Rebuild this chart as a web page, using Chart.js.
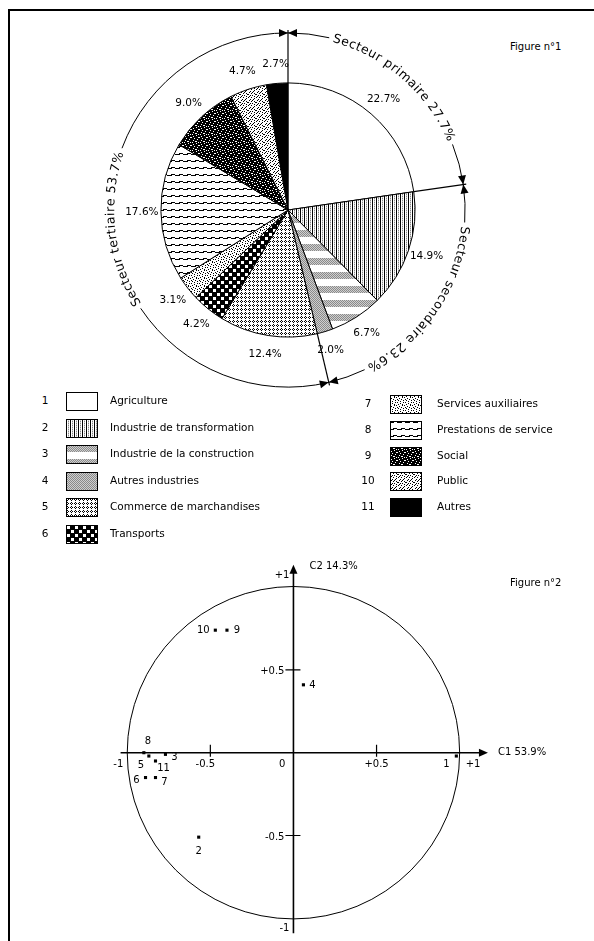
<!DOCTYPE html>
<html>
<head>
<meta charset="utf-8">
<script src="https://cdn.jsdelivr.net/npm/chart.js@4.4.0/dist/chart.umd.min.js"></script>
<style>
  body { margin: 0; background: #fff; width: 594px; height: 941px; overflow: hidden; position: relative; font-family: "DejaVu Sans", sans-serif; color: #000; }
  #frame { position: absolute; left: 8px; top: 9px; width: 620px; height: 960px; border-top: 2px solid #000; border-left: 2px solid #000; }
  canvas { position: absolute; }
  .fig { position: absolute; font-size: 10px; }
  .num { position: absolute; font-size: 10.5px; width: 20px; text-align: center; }
  .lab { position: absolute; font-size: 10.5px; white-space: nowrap; }
</style>
</head>
<body>
<div id="frame"></div>
<canvas id="pie" width="400" height="380" style="left:88px;top:20px"></canvas>
<div class="fig" style="left:510px;top:41px">Figure n°1</div>
<div id="legend"></div>
<canvas id="acp" width="490" height="391" style="left:90px;top:550px"></canvas>
<div class="fig" style="left:510px;top:577px">Figure n°2</div>
<script>
// branches d'activite (figure 1)
const branches = ['Agriculture', 'Industrie de transformation', 'Industrie de la construction',
  'Autres industries', 'Commerce de marchandises', 'Transports', 'Services auxiliaires',
  'Prestations de service', 'Social', 'Public', 'Autres'];
const shares = [22.7, 14.9, 6.7, 2.0, 12.4, 4.2, 3.1, 17.6, 9.0, 4.7, 2.7];
const sectors = ['Secteur primaire', 'Secteur secondaire', 'Secteur tertiaire'];
const sectorShares = ['27.7%', '23.6%', '53.7%'];
const sectorOf = [0, 1, 1, 1, 2, 2, 2, 2, 2, 2, 2];

// cercle des correlations (figure 2)
const pointIds = ['1', '2', '3', '4', '5', '6', '7', '8', '9', '10', '11'];
const c1 = [0.98, -0.57, -0.77, 0.06, -0.87, -0.89, -0.83, -0.90, -0.40, -0.47, -0.83];
const c2 = [-0.02, -0.51, -0.01, 0.41, -0.02, -0.15, -0.15, 0.0, 0.74, 0.74, -0.05];
const axisTitles = ['C1 53.9%', 'C2 14.3%'];
const xTicks = [-1, -0.5, 0, 0.5, 1];
const xTickLabels = ['-1', '-0.5', '0', '+0.5', '+1'];
const yTicks = [1, 0.5, -0.5, -1];
const yTickLabels = ['+1', '+0.5', '-0.5', '-1'];

// where each point label sits (dx, dy in px)
const labelOffsets = [[-10, 8], [0, 14], [9, 3], [9, 1], [-8, 9], [-9, 3], [9, 5], [4, -11], [10, 0], [-12, 0], [8, 7]];

// hatch tiles, one per branch
const ink = { '#': '#000', '.': '#fff', 'o': '#8a8a8a', ':': '#cfcfcf' };
const tiles = [
  ['.'],
  ['#.o.', '#.:.'],
  ['o:', ':o', 'o:', ':o', 'o:', ':o', 'o:', '..', '..', '..', '..', '..', '..', '..'],
  ['o:', ':o'],
  ['.#..', '#.#.', '.#..', '....'],
  ['########', '#...####', '#...####', '#...####', '########', '#####...', '#####...', '#####...'],
  ['..#.....', '#...#...', '....#.#.', '.#......', '...#...#', '#....#..', '..#.....', '.....#.#'],
  ['...####.', '####...#', '........', '........', '........', '........', '........'],
  ['#.######', '###..###', '.#####.#', '####.###', '#.######', '######..', '##.#####', '#####.##'],
  ['.#..#...', '...#..#.', '#......#', '..#.#...', '.#....#.', '#..#....', '......#.', '..#..#..'],
  ['#']
];

function tileCanvas(rows) {
  const c = document.createElement('canvas');
  c.width = rows[0].length;
  c.height = rows.length;
  const g = c.getContext('2d');
  rows.forEach((row, y) => {
    [...row].forEach((ch, x) => {
      g.fillStyle = ink[ch];
      g.fillRect(x, y, 1, 1);
    });
  });
  return c;
}
const tileCanvases = tiles.map(tileCanvas);

// legend (html)
const legend = document.getElementById('legend');
branches.forEach((name, i) => {
  const right = i >= 6;
  const row = right ? i - 6 : i;
  const top = right ? 395 + row * 25.8 : 392 + row * 26.6;
  const num = document.createElement('div');
  num.className = 'num';
  num.style.left = (right ? 358 : 35) + 'px';
  num.style.top = (top + 2) + 'px';
  num.textContent = pointIds[i];
  legend.appendChild(num);
  const sw = document.createElement('canvas');
  sw.width = 32;
  sw.height = 19;
  sw.style.left = (right ? 390 : 66) + 'px';
  sw.style.top = top + 'px';
  const g = sw.getContext('2d');
  g.fillStyle = g.createPattern(tileCanvases[i], 'repeat');
  g.fillRect(0, 0, 32, 19);
  g.strokeStyle = '#000';
  g.lineWidth = 1;
  g.strokeRect(0.5, 0.5, 31, 18);
  legend.appendChild(sw);
  const lab = document.createElement('div');
  lab.className = 'lab';
  lab.style.left = (right ? 437 : 110) + 'px';
  lab.style.top = (top + 2) + 'px';
  lab.textContent = name;
  legend.appendChild(lab);
});

function arrowHead(ctx, x, y, dx, dy, len, hw) {
  ctx.beginPath();
  ctx.moveTo(x, y);
  ctx.lineTo(x - dx * len - dy * hw, y - dy * len + dx * hw);
  ctx.lineTo(x - dx * len + dy * hw, y - dy * len - dx * hw);
  ctx.closePath();
  ctx.fill();
}

const pieDeco = {
  id: 'pieDeco',
  afterDatasetsDraw(chart) {
    const ctx = chart.ctx;
    const arcs = chart.getDatasetMeta(0).data;
    const cx = arcs[0].x;
    const cy = arcs[0].y;
    const r = arcs[0].outerRadius;
    const R = r * 177 / 127;
    ctx.save();
    ctx.fillStyle = '#000';
    ctx.strokeStyle = '#000';
    ctx.font = '10.5px "DejaVu Sans"';
    ctx.textAlign = 'center';
    ctx.textBaseline = 'middle';
    arcs.forEach((a, i) => {
      const m = (a.startAngle + a.endAngle) / 2;
      ctx.fillText(shares[i].toFixed(1) + '%', cx + Math.cos(m) * r * 1.15, cy + Math.sin(m) * r * 1.15);
    });

    ctx.font = '12.5px "DejaVu Sans"';
    ctx.letterSpacing = '0.6px';
    sectors.forEach((name, s) => {
      const idx = [];
      sectorOf.forEach((v, i) => { if (v === s) idx.push(i); });
      const a0 = arcs[idx[0]].startAngle;
      const a1 = arcs[idx[idx.length - 1]].endAngle;
      const text = name + ' ' + sectorShares[s];
      const w = ctx.measureText(text).width;
      const mid = (a0 + a1) / 2;
      const t0 = mid - w / 2 / R;
      const t1 = mid + w / 2 / R;
      const gap = 4 / R;
      ctx.lineWidth = 1;
      ctx.beginPath();
      ctx.arc(cx, cy, R, a0, t0 - gap);
      ctx.stroke();
      ctx.beginPath();
      ctx.arc(cx, cy, R, t1 + gap, a1);
      ctx.stroke();
      // text along the arc
      let off = 0;
      for (const ch of text) {
        const cw = ctx.measureText(ch).width;
        const th = t0 + (off + cw / 2) / R;
        ctx.save();
        ctx.translate(cx + Math.cos(th) * R, cy + Math.sin(th) * R);
        ctx.rotate(th + Math.PI / 2);
        ctx.fillText(ch, 0, 0);
        ctx.restore();
        off += cw;
      }
      // arrows at both ends
      const hs = [[a0, -1], [a1, 1]];
      hs.forEach(([th, dir]) => {
        const x = cx + Math.cos(th) * R;
        const y = cy + Math.sin(th) * R;
        arrowHead(ctx, x, y, -Math.sin(th) * dir, Math.cos(th) * dir, 9, 4);
      });
      // boundary line from pie edge to ring
      ctx.lineWidth = 1.2;
      ctx.beginPath();
      ctx.moveTo(cx + Math.cos(a0) * r, cy + Math.sin(a0) * r);
      ctx.lineTo(cx + Math.cos(a0) * (R + 3), cy + Math.sin(a0) * (R + 3));
      ctx.stroke();
    });
    ctx.restore();
  }
};

const pieCtx = document.getElementById('pie').getContext('2d');
new Chart(pieCtx, {
  type: 'pie',
  data: {
    labels: branches,
    datasets: [{
      data: shares,
      backgroundColor: tileCanvases.map((t) => pieCtx.createPattern(t, 'repeat')),
      borderColor: '#000',
      borderWidth: 1,
      radius: '72%'
    }]
  },
  options: {
    responsive: false,
    animation: false,
    layout: { padding: { left: 23, right: 23, top: 13, bottom: 13 } },
    plugins: { legend: { display: false }, tooltip: { enabled: false } }
  },
  plugins: [pieDeco]
});

const acpDeco = {
  id: 'acpDeco',
  beforeDatasetsDraw(chart) {
    const { ctx, scales: { x, y } } = chart;
    const ox = x.getPixelForValue(0);
    const oy = y.getPixelForValue(0);
    const unit = x.getPixelForValue(1) - ox;
    ctx.save();
    ctx.strokeStyle = '#000';
    ctx.fillStyle = '#000';
    ctx.lineWidth = 1;
    ctx.beginPath();
    ctx.arc(ox, oy, unit, 0, Math.PI * 2);
    ctx.stroke();
    ctx.lineWidth = 1.6;
    ctx.beginPath();
    ctx.moveTo(x.getPixelForValue(-1.04), oy);
    ctx.lineTo(x.getPixelForValue(1.12), oy);
    ctx.moveTo(ox, y.getPixelForValue(-1.09));
    ctx.lineTo(ox, y.getPixelForValue(1.09));
    ctx.stroke();
    arrowHead(ctx, x.getPixelForValue(1.17), oy, 1, 0, 9, 4);
    arrowHead(ctx, ox, y.getPixelForValue(1.135), 0, -1, 9, 4);
    ctx.lineWidth = 1.2;
    [-0.5, 0.5].forEach((v) => {
      const px = x.getPixelForValue(v);
      const py = y.getPixelForValue(v);
      ctx.beginPath();
      ctx.moveTo(px, oy - 8);
      ctx.lineTo(px, oy + 4);
      ctx.moveTo(ox - 8, py);
      ctx.lineTo(ox + 7, py);
      ctx.stroke();
    });
    ctx.font = '10px "DejaVu Sans"';
    ctx.textBaseline = 'middle';
    const xAlign = [['right', -4], ['center', -5], ['right', -8], ['center', 0], ['left', 6]];
    xTicks.forEach((v, i) => {
      ctx.textAlign = xAlign[i][0];
      ctx.fillText(xTickLabels[i], x.getPixelForValue(v) + xAlign[i][1], oy + 12);
    });
    const yDy = [-12, 1, 2, 10];
    ctx.textAlign = 'right';
    yTicks.forEach((v, i) => {
      ctx.fillText(yTickLabels[i], ox - (Math.abs(v) === 1 ? 4 : 9), y.getPixelForValue(v) + yDy[i]);
    });
    ctx.textAlign = 'left';
    ctx.fillText(axisTitles[0], x.getPixelForValue(1.17) + 10, oy);
    ctx.fillText(axisTitles[1], ox + 16, y.getPixelForValue(1.135) + 2);
    ctx.restore();
  },
  afterDatasetsDraw(chart) {
    const { ctx } = chart;
    const pts = chart.getDatasetMeta(0).data;
    ctx.save();
    ctx.fillStyle = '#000';
    ctx.font = '10px "DejaVu Sans"';
    ctx.textAlign = 'center';
    ctx.textBaseline = 'middle';
    pts.forEach((p, i) => {
      ctx.fillText(pointIds[i], p.x + labelOffsets[i][0], p.y + labelOffsets[i][1]);
    });
    ctx.restore();
  }
};

new Chart(document.getElementById('acp'), {
  type: 'scatter',
  data: {
    datasets: [{
      data: c1.map((v, i) => ({ x: v, y: c2[i] })),
      pointStyle: 'rect',
      pointRadius: 2.2,
      backgroundColor: '#000',
      borderColor: '#000',
      borderWidth: 0
    }]
  },
  options: {
    responsive: false,
    animation: false,
    layout: { padding: 0 },
    scales: {
      x: { type: 'linear', min: -1.2, max: 1.7, display: false },
      y: { type: 'linear', min: -1.113, max: 1.2, display: false }
    },
    plugins: { legend: { display: false }, tooltip: { enabled: false } }
  },
  plugins: [acpDeco]
});
</script>
</body>
</html>
